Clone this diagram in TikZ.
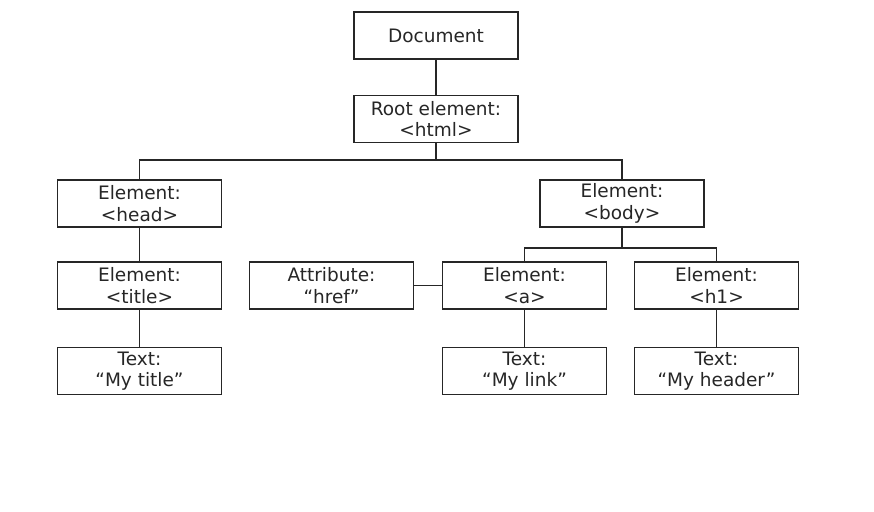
\documentclass[tikz,border=0pt]{standalone}
\usepackage{fontspec}
\setmainfont{DejaVu Sans}
\begin{document}
\begin{tikzpicture}[x=1pt,y=-1pt,
  box/.style={draw=black!85,line width=1.4pt,minimum width=164pt,minimum height=47pt,
    inner sep=0pt,align=center,text=black!85,
    font=\fontsize{18.5pt}{21.5pt}\selectfont},
  conn/.style={draw=black!85,line width=1.4pt}]
\useasboundingbox (0,0) rectangle (874,511);
\node[box] (doc) at (436,35.5) {Document};
\node[box] (root) at (436,119) {Root element:\\<html>};
\node[box] (head) at (139.5,203.5) {Element:\\<head>};
\node[box] (body) at (622,203.5) {Element:\\<body>};
\node[box] (title) at (139.5,285.5) {Element:\\<title>};
\node[box] (attr) at (331.5,285.5) {Attribute:\\“href”};
\node[box] (a) at (524.5,285.5) {Element:\\<a>};
\node[box] (h1) at (716.5,285.5) {Element:\\<h1>};
\node[box] (ttext) at (139.5,371) {Text:\\“My title”};
\node[box] (atext) at (524.5,371) {Text:\\“My link”};
\node[box] (htext) at (716.5,371) {Text:\\“My header”};
\coordinate (bus1) at (436,160);
\coordinate (bus2) at (622,248);
\draw[conn] (doc) -- (root);
\draw[conn] (root) -- (bus1);
\draw[conn] (head.north) |- (bus1) -| (body.north);
\draw[conn] (head) -- (title);
\draw[conn] (title) -- (ttext);
\draw[conn] (body) -- (bus2);
\draw[conn] (a.north) |- (bus2) -| (h1.north);
\draw[conn] (attr) -- (a);
\draw[conn] (a) -- (atext);
\draw[conn] (h1) -- (htext);
\end{tikzpicture}
\end{document}
